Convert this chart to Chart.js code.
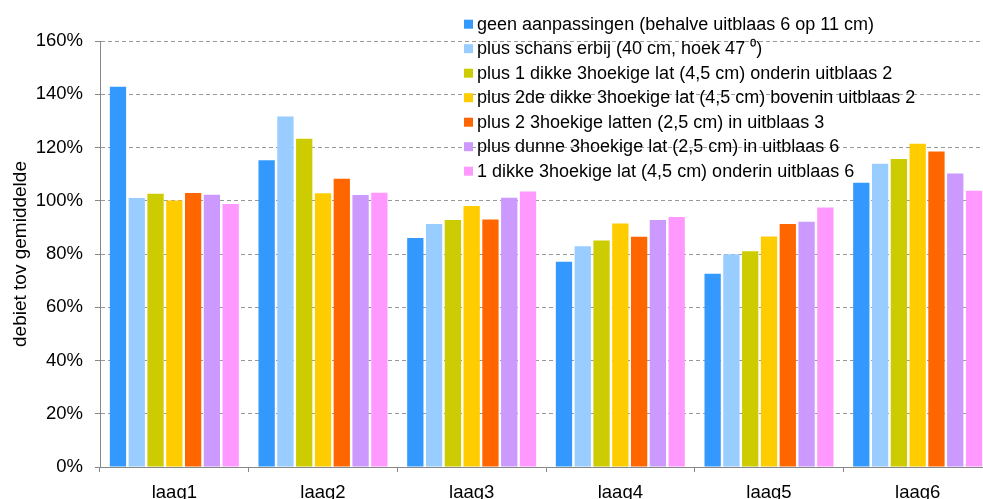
<!DOCTYPE html>
<html>
<head>
<meta charset="utf-8">
<script src="https://cdn.jsdelivr.net/npm/chart.js@4"></script>
<style>
  html,body{margin:0;padding:0;background:#fff;overflow:hidden}
</style>
</head>
<body>
<canvas id="data_chart" width="1000" height="499"></canvas>
<script>
const categories=["laag1","laag2","laag3","laag4","laag5","laag6"]
const series_names=[
  "geen aanpassingen (behalve uitblaas 6 op 11 cm)",
  "plus schans erbij (40 cm, hoek 47 \u2070)",
  "plus 1 dikke 3hoekige lat (4,5 cm) onderin uitblaas 2",
  "plus 2de dikke 3hoekige lat (4,5 cm) bovenin uitblaas 2",
  "plus 2 3hoekige latten (2,5 cm) in uitblaas 3",
  "plus dunne 3hoekige lat (2,5 cm) in uitblaas 6",
  "1 dikke 3hoekige lat (4,5 cm) onderin uitblaas 6"
]
const series_colors=["#3399FF","#99CCFF","#CCCC00","#FFCC00","#FF6600","#CC99FF","#FF99FF"]
// values in percent, per series, laag1..laag6
const geen=[142.8,115.2,86.0,77.1,72.6,106.8]
const schans=[101.0,131.6,91.3,82.9,79.9,113.9]
const lat_onder2=[102.6,123.3,92.8,85.1,81.0,115.7]
const lat_boven2=[100.1,102.8,98.0,91.5,86.6,121.4]
const latten3=[102.9,108.3,93.0,86.5,91.3,118.5]
const dunne6=[102.3,102.2,101.1,92.8,92.1,110.2]
const dikke6=[98.8,103.0,103.5,93.9,97.5,103.8]
const y_ticks=[0,20,40,60,80,100,120,140,160]
const y_title="debiet tov gemiddelde"

const all_values=[geen,schans,lat_onder2,lat_boven2,latten3,dunne6,dikke6]
const datasets=[]
for(let i=0;i<all_values.length;i++){
  datasets.push({
    label:series_names[i],
    data:all_values[i],
    backgroundColor:series_colors[i],
    borderWidth:0,
    barPercentage:0.867,
    categoryPercentage:0.8845
  })
}

const font_name="'Liberation Sans', Arial, sans-serif"

// legend drawn on top of the plot, like the original
const overlay_legend={
  id:'overlay_legend',
  afterDraw(chart){
    const ctx=chart.ctx
    ctx.save()
    ctx.font="18px "+font_name
    ctx.textBaseline='middle'
    ctx.textAlign='left'
    chart.data.datasets.forEach((ds,i)=>{
      const y=24.2+i*24.5
      ctx.fillStyle=ds.backgroundColor
      ctx.fillRect(464,y-4.5,9,9)
      ctx.fillStyle='#000'
      ctx.fillText(ds.label,477,y+0.5)
    })
    ctx.restore()
  }
}

const data_chart=new Chart('data_chart',{
  type:'bar',
  data:{labels:categories,datasets:datasets},
  options:{
    responsive:false,
    animation:false,
    devicePixelRatio:1,
    layout:{padding:{top:41,right:8,left:0,bottom:0}},
    plugins:{legend:{display:false},tooltip:{enabled:false}},
    scales:{
      x:{
        grid:{drawOnChartArea:false,color:'#888',tickLength:5,offset:true},
        border:{color:'#888',width:1},
        ticks:{color:'#000',font:{family:font_name,size:18.5},padding:10,maxRotation:0},
        afterFit(scale){scale.height=32}
      },
      y:{
        min:0,max:160,
        afterBuildTicks(scale){scale.ticks=y_ticks.map(v=>({value:v}))},
        grid:{color:'#999',tickLength:5,tickBorderDash:[],tickColor:'#888'},
        border:{color:'#888',width:1,dash:[4,3]},
        ticks:{color:'#000',font:{family:font_name,size:18.5},padding:12,callback:v=>v+'%'},
        title:{display:true,text:y_title,color:'#000',font:{family:font_name,size:19},padding:{top:9,bottom:0}},
        afterFit(scale){scale.width=100}
      }
    }
  },
  plugins:[overlay_legend]
})
</script>
</body>
</html>
